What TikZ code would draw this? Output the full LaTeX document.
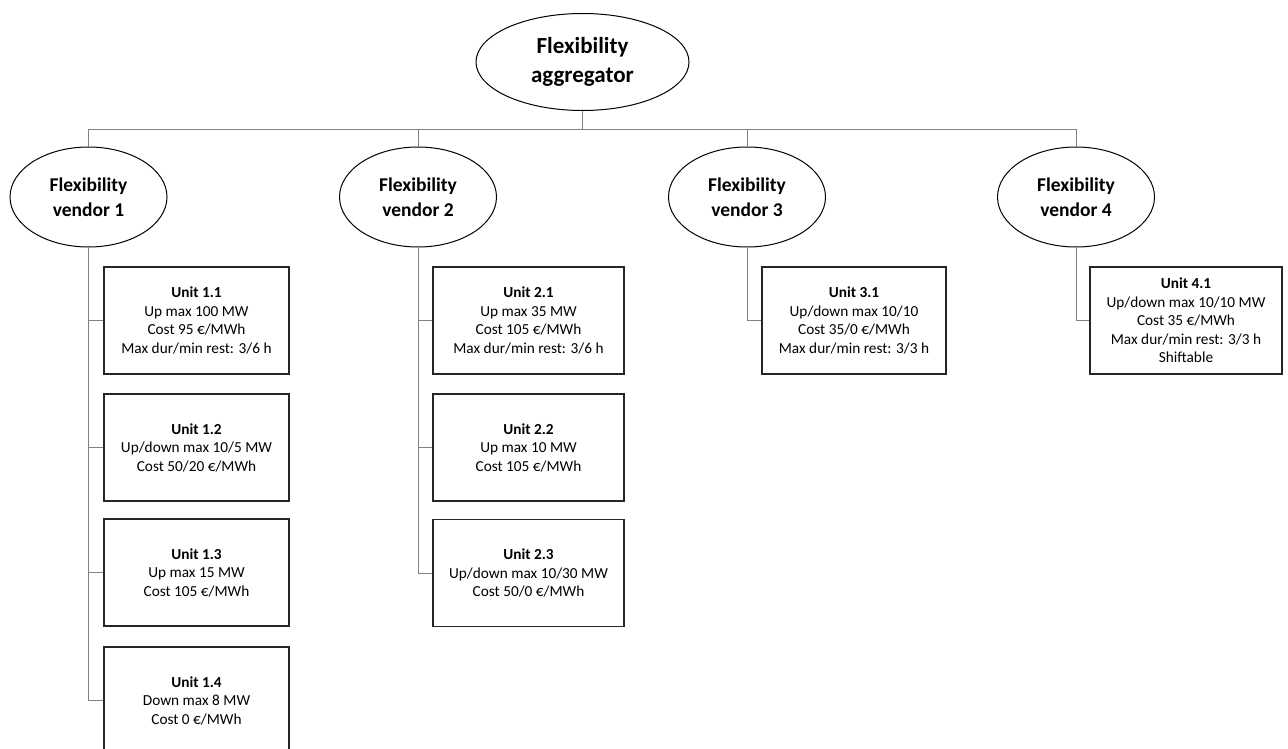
\documentclass[tikz,border=0pt]{standalone}
\usepackage{fontspec}
\setmainfont{Carlito}
\usetikzlibrary{shapes.geometric}
\begin{document}
\begin{tikzpicture}[x=1pt,y=-1pt,
  agg/.style={ellipse,draw=black,line width=1pt,minimum width=213pt,minimum height=97pt,inner sep=0pt,align=center,
    font=\fontsize{23}{28.5}\selectfont\bfseries},
  vend/.style={ellipse,draw=black,line width=1pt,minimum width=157pt,minimum height=100pt,inner sep=0pt,align=center,
    font=\fontsize{19.5}{25}\selectfont\bfseries},
  unit/.style={rectangle,draw=black!85,line width=1.4pt,minimum height=107pt,inner sep=0pt,align=center,
    font=\fontsize{15.3}{18.5}\selectfont},
  conn/.style={draw=black!50,line width=1pt}]
\useasboundingbox[fill=white] (0,0) rectangle (1288,749);

\node[agg] (agg) at (582.5,62) {Flexibility\\aggregator};

\node[vend] (v1) at (88.5,197) {Flexibility\\vendor 1};
\node[vend] (v2) at (418,197) {Flexibility\\vendor 2};
\node[vend] (v3) at (747,197) {Flexibility\\vendor 3};
\node[vend] (v4) at (1076,197) {Flexibility\\vendor 4};

\coordinate (bus) at (0,130);

\node[unit,minimum width=185pt] (u11) at (196.5,320.5) {\textbf{Unit 1.1}\\Up max 100 MW\\Cost 95 €/MWh\\Max dur/min rest: 3/6 h};
\node[unit,minimum width=185pt] (u12) at (196.5,447.5) {\textbf{Unit 1.2}\\Up/down max 10/5 MW\\Cost 50/20 €/MWh};
\node[unit,minimum width=185pt] (u13) at (196.5,572.5) {\textbf{Unit 1.3}\\Up max 15 MW\\Cost 105 €/MWh};
\node[unit,minimum width=185pt] (u14) at (196.5,700.5) {\textbf{Unit 1.4}\\Down max 8 MW\\Cost 0 €/MWh};

\node[unit,minimum width=191pt] (u21) at (528.5,320.5) {\textbf{Unit 2.1}\\Up max 35 MW\\Cost 105 €/MWh\\Max dur/min rest: 3/6 h};
\node[unit,minimum width=191pt] (u22) at (528.5,447.5) {\textbf{Unit 2.2}\\Up max 10 MW\\Cost 105 €/MWh};
\node[unit,minimum width=191pt] (u23) at (528.5,573) {\textbf{Unit 2.3}\\Up/down max 10/30 MW\\Cost 50/0 €/MWh};

\node[unit,minimum width=184pt] (u31) at (854,320.5) {\textbf{Unit 3.1}\\Up/down max 10/10\\Cost 35/0 €/MWh\\Max dur/min rest: 3/3 h};

\node[unit,minimum width=192pt] (u41) at (1186,320.5) {\textbf{Unit 4.1}\\Up/down max 10/10 MW\\Cost 35 €/MWh\\Max dur/min rest: 3/3 h\\Shiftable};

\foreach \v in {v1,v2,v3,v4}
  \draw[conn] (agg.south) -- (agg.south |- bus) -| (\v.north);

\foreach \u in {u11,u12,u13,u14}
  \draw[conn] (v1.south) |- (\u.west);
\foreach \u in {u21,u22,u23}
  \draw[conn] (v2.south) |- (\u.west);
\draw[conn] (v3.south) |- (u31.west);
\draw[conn] (v4.south) |- (u41.west);
\end{tikzpicture}
\end{document}
